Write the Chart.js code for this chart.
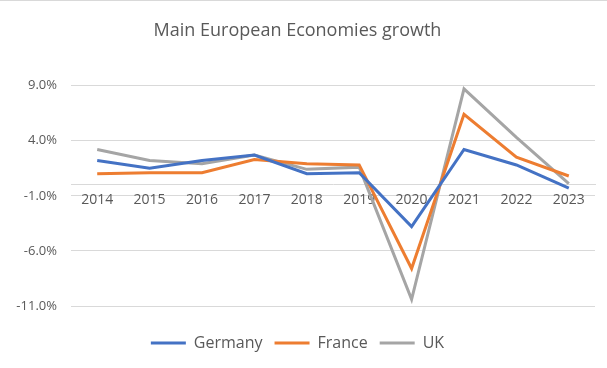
<!DOCTYPE html>
<html>
<head>
<meta charset="utf-8">
<script src="https://cdn.jsdelivr.net/npm/chart.js@4/dist/chart.umd.min.js"></script>
<style>
  html, body { margin: 0; padding: 0; background: #fff; }
  #wrap { position: relative; width: 607px; height: 368px; border-top: 1px solid #D9D9D9; box-sizing: border-box; }
  canvas { display: block; }
</style>
</head>
<body>
<div id="wrap"><canvas id="c" width="607" height="367"></canvas></div>
<script>
const years = ['2014','2015','2016','2017','2018','2019','2020','2021','2022','2023'];
const germany = [2.2, 1.5, 2.2, 2.7, 1.0, 1.1, -3.8, 3.2, 1.8, -0.3];
const france  = [1.0, 1.1, 1.1, 2.3, 1.9, 1.8, -7.6, 6.4, 2.5, 0.8];
const uk      = [3.2, 2.2, 1.9, 2.7, 1.4, 1.6, -10.4, 8.7, 4.3, 0.1];
const yTicks  = [-11, -6, -1, 4, 9];
const titleText = 'Main European Economies growth';

const FONT = "'Open Sans', 'Liberation Sans', sans-serif";
const TEXT = '#595959';
const GRID = '#D9D9D9';

function ds(label, data, color) {
  return { label, data, borderColor: color, backgroundColor: color, borderWidth: 3,
           pointRadius: 0, pointHoverRadius: 0, tension: 0, fill: false };
}

new Chart(document.getElementById('c'), {
  type: 'line',
  data: {
    labels: years,
    datasets: [
      ds('Germany', germany, '#4472C4'),
      ds('France', france, '#ED7D31'),
      ds('UK', uk, '#A5A5A5')
    ]
  },
  options: {
    responsive: false,
    animation: false,
    layout: { padding: { left: 0, right: 12, top: 0, bottom: 7 } },
    plugins: {
      title: {
        display: true, text: titleText, color: TEXT,
        font: { family: FONT, size: 18, weight: 'normal' },
        padding: { top: 19, bottom: 44 }
      },
      subtitle: {
        display: true, text: ' ', position: 'bottom', weight: 500,
        font: { size: 1, lineHeight: 1 }, color: 'rgba(0,0,0,0)',
        padding: { top: 8, bottom: 8 }
      },
      legend: {
        position: 'bottom',
        labels: {
          color: TEXT, font: { family: FONT, size: 16 },
          boxWidth: 35, boxHeight: 3, padding: 12,
          generateLabels(chart) {
            return chart.data.datasets.map((d, i) => ({
              text: d.label, fillStyle: d.borderColor, strokeStyle: d.borderColor,
              lineWidth: 0, datasetIndex: i, fontColor: TEXT
            }));
          }
        }
      },
      tooltip: { enabled: false }
    },
    scales: {
      x: {
        position: { y: 0 },
        offset: true,
        grid: { display: false, drawTicks: false },
        border: { display: true, color: GRID, width: 1 },
        ticks: { color: TEXT, font: { family: FONT, size: 14 }, padding: 7, maxRotation: 0 }
      },
      y: {
        min: -11, max: 9,
        afterBuildTicks(scale) { scale.ticks = yTicks.map(v => ({ value: v })); },
        afterFit(scale) { scale.width = 71; },
        grid: { color: GRID, lineWidth: 1, drawTicks: false },
        border: { display: false },
        ticks: {
          color: TEXT, font: { family: FONT, size: 13 }, padding: 14,
          callback: v => v.toFixed(1) + '%'
        }
      }
    }
  }
});
</script>
</body>
</html>
